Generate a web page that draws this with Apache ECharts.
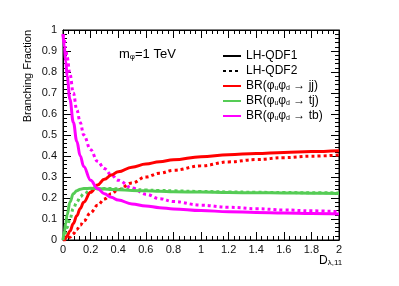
<!DOCTYPE html>
<html><head><meta charset="utf-8">
<script src="https://cdn.jsdelivr.net/npm/echarts@6/dist/echarts.min.js"></script>
<style>html,body{margin:0;padding:0;background:#fff}#c{width:399px;height:286px}</style>
</head><body><div id="c"></div>
<script>
const xVals = [0, 0.01, 0.02, 0.03, 0.05, 0.075, 0.1, 0.125, 0.15, 0.2, 0.25, 0.3, 0.35, 0.4, 0.5, 0.6, 0.7, 0.8, 1.0, 1.2, 1.4, 1.6, 1.8, 2.0];
const jj1 = [0, 0.003, 0.01, 0.02, 0.042, 0.078, 0.115, 0.15, 0.18, 0.227, 0.262, 0.289, 0.309, 0.325, 0.347, 0.362, 0.373, 0.382, 0.397, 0.406, 0.412, 0.417, 0.421, 0.425];
const jj2 = [0, 0.0, 0.002, 0.005, 0.013, 0.03, 0.05, 0.07, 0.09, 0.13, 0.165, 0.195, 0.22, 0.24, 0.272, 0.30, 0.318, 0.332, 0.353, 0.372, 0.383, 0.392, 0.399, 0.405];
const tj1 = [0, 0.04, 0.08, 0.12, 0.18, 0.22, 0.235, 0.242, 0.245, 0.246, 0.245, 0.243, 0.241, 0.239, 0.236, 0.234, 0.232, 0.23, 0.228, 0.226, 0.225, 0.224, 0.223, 0.222];
const tj2 = [0, 0.015, 0.035, 0.06, 0.10, 0.15, 0.18, 0.205, 0.22, 0.237, 0.243, 0.245, 0.245, 0.244, 0.241, 0.238, 0.236, 0.234, 0.231, 0.229, 0.227, 0.226, 0.225, 0.224];
const tb1 = [0.98, 0.92, 0.85, 0.78, 0.67, 0.56, 0.47, 0.40, 0.35, 0.285, 0.245, 0.22, 0.203, 0.19, 0.172, 0.162, 0.154, 0.148, 0.14, 0.135, 0.131, 0.128, 0.126, 0.124];
const tb2 = [0.98, 0.95, 0.91, 0.87, 0.79, 0.70, 0.62, 0.56, 0.50, 0.43, 0.375, 0.34, 0.31, 0.285, 0.248, 0.218, 0.197, 0.183, 0.166, 0.156, 0.149, 0.143, 0.139, 0.135];
const legendNames = ['LH-QDF1', 'LH-QDF2', 'BR(φuφd → jj)', 'BR(φuφd → tj)', 'BR(φuφd → tb)'];
const xTicks = {min: 0, max: 2, interval: 0.2};
const yTicks = {min: 0, max: 1, interval: 0.1};

const FONT = 'Liberation Sans';
const RED = '#ff0000', GREEN = '#55cc55', MAG = '#ff00ff';
const pair = arr => xVals.map((x, i) => [x, arr[i]]);
const dotted = [3, 3];
function curve(name, arr, color, dashed) {
  return {type: 'line', name: name, data: pair(arr), showSymbol: false, symbol: 'none',
    smooth: 0.4, smoothMonotone: 'x', color: color,
    lineStyle: {color: color, width: 3, type: dashed ? dotted : 'solid'}, z: dashed ? 2 : 3};
}
function axisCommon() {
  return {
    show: true, gridIndex: 0,
    axisLine: {show: true, onZero: false, lineStyle: {color: '#000', width: 1}},
    axisTick: {show: true, inside: true, length: 8, lineStyle: {color: '#000'}},
    minorTick: {show: true, splitNumber: 5, length: 4, lineStyle: {color: '#000'}},
    splitLine: {show: false}, minorSplitLine: {show: false}
  };
}
const fmt = v => (Math.round(v * 10) / 10).toString();
const richSub = (size, lh) => ({fontFamily: FONT, fontSize: size, lineHeight: lh, verticalAlign: 'bottom', color: '#000'});
const chart = echarts.init(document.getElementById('c'), null, {renderer: 'canvas'});
chart.setOption({
  animation: false,
  backgroundColor: '#fff',
  grid: {left: 63, right: 60, top: 30, bottom: 46, show: true, borderColor: '#000', borderWidth: 1, backgroundColor: 'transparent'},
  title: [
    {text: '{t|m}{s|φ}{t|=1 TeV}', left: 119, top: 47, padding: 0,
      textStyle: {fontFamily: FONT, fontSize: 13, fontWeight: 'normal', color: '#000',
        rich: {t: richSub(13, 14), s: richSub(8, 4)}}},
    {text: '{t|D}{s|λ,11}', left: 319, top: 254, padding: 0,
      textStyle: {fontFamily: FONT, fontSize: 12, fontWeight: 'normal', color: '#000',
        rich: {t: richSub(12, 13), s: richSub(8, 4)}}}
  ],
  graphic: [{type: 'text', x: 28, y: 30, rotation: Math.PI / 2,
    style: {text: 'Branching Fraction', fontFamily: FONT, fontSize: 11, fill: '#000', textAlign: 'right', textVerticalAlign: 'middle'}}],
  legend: {
    data: legendNames, orient: 'vertical', left: 217, top: 45, itemWidth: 18, itemHeight: 10, itemGap: 3,
    selectedMode: false, itemStyle: {opacity: 0},
    textStyle: {fontFamily: FONT, fontSize: 12, lineHeight: 12, color: '#000',
      rich: {t: richSub(12, 12), s: richSub(7, 3)}},
    formatter: function (n) {
      if (n.indexOf('BR(') === 0) {
        const tail = n.split('φd')[1];
        return '{t|BR(φ}{s|u}{t|φ}{s|d}{t|' + tail + '}';
      }
      return '{t|' + n + '}';
    }
  },
  xAxis: [
    Object.assign({type: 'value', position: 'bottom', min: xTicks.min, max: xTicks.max, interval: xTicks.interval,
      axisLabel: {show: true, fontFamily: FONT, fontSize: 11, color: '#111', margin: 4, formatter: fmt}}, axisCommon()),
    Object.assign({type: 'value', position: 'top', min: xTicks.min, max: xTicks.max, interval: xTicks.interval,
      axisLabel: {show: false}}, axisCommon())
  ],
  yAxis: [
    Object.assign({type: 'value', position: 'left', min: yTicks.min, max: yTicks.max, interval: yTicks.interval,
      axisLabel: {show: true, fontFamily: FONT, fontSize: 11, color: '#111', margin: 6, formatter: fmt}}, axisCommon()),
    Object.assign({type: 'value', position: 'right', min: yTicks.min, max: yTicks.max, interval: yTicks.interval,
      axisLabel: {show: false}}, axisCommon())
  ],
  series: [
    {type: 'line', name: legendNames[0], data: [], color: '#000', symbol: 'none', lineStyle: {color: '#000', width: 3, type: 'solid'}},
    {type: 'line', name: legendNames[1], data: [], color: '#000', symbol: 'none', lineStyle: {color: '#000', width: 3, type: dotted}},
    {type: 'line', name: 'frame', xAxisIndex: 1, yAxisIndex: 1, data: [[0, 0]], symbol: 'none', silent: true, lineStyle: {opacity: 0}},
    curve('jj2', jj2, RED, true),
    curve('tj2', tj2, GREEN, true),
    curve('tb2', tb2, MAG, true),
    curve(legendNames[2], jj1, RED, false),
    curve(legendNames[3], tj1, GREEN, false),
    curve(legendNames[4], tb1, MAG, false)
  ]
});
</script></body></html>
